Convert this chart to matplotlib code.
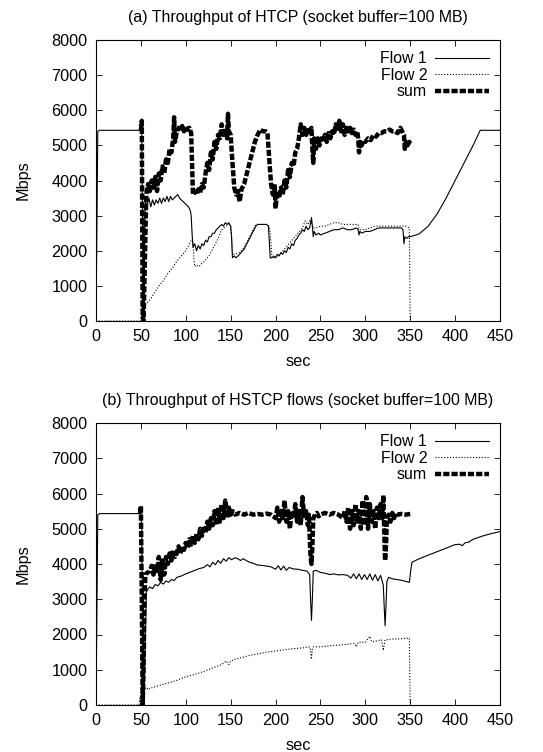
import matplotlib
matplotlib.use("Agg")
import matplotlib.pyplot as plt

plt.rcParams["font.family"] = ["Liberation Sans", "DejaVu Sans"]

# ---- panel (a) HTCP ----
f1a_t = [0, 2, 4, 50, 51, 52, 53, 55, 57, 59,
         61, 63, 65, 67, 69, 71, 73, 75, 77, 79,
         81, 83, 85, 87, 89, 91, 93, 95, 97, 99,
         101, 103, 105, 106, 107, 108, 110, 112, 114, 116,
         118, 120, 122, 124, 126, 128, 130, 132, 134, 136,
         138, 140, 142, 144, 146, 148, 150, 151, 152, 154,
         156, 160, 165, 170, 175, 178, 180, 185, 190, 192,
         193, 194, 196, 198, 200, 202, 204, 206, 208, 210,
         212, 214, 216, 218, 220, 222, 224, 226, 228, 230,
         232, 234, 236, 238, 240, 241, 242, 243, 245, 248,
         250, 255, 260, 265, 270, 275, 280, 285, 290, 292,
         293, 294, 296, 300, 305, 310, 315, 320, 325, 330,
         335, 340, 342, 343, 344, 346, 348, 350, 360, 370,
         380, 390, 400, 410, 420, 428, 435, 450]
f1a_v = [0, 5400, 5430, 5430, 5450, 2000, 0, 3400, 3300, 3500,
         3250, 3450, 3300, 3450, 3350, 3500, 3350, 3500, 3400, 3550,
         3400, 3550, 3450, 3500, 3550, 3600, 3500, 3450, 3400, 3350,
         3300, 3250, 3150, 3000, 2500, 2100, 2200, 2000, 2150, 2050,
         2200, 2150, 2300, 2250, 2400, 2400, 2500, 2500, 2600, 2650,
         2700, 2750, 2700, 2800, 2750, 2800, 2700, 2400, 1800, 1850,
         1800, 1900, 2050, 2300, 2550, 2700, 2750, 2750, 2750, 2700,
         2300, 1800, 1800, 1850, 1800, 1900, 1850, 1950, 1900, 2000,
         1950, 2100, 2050, 2200, 2150, 2300, 2350, 2450, 2500, 2600,
         2550, 2700, 2600, 2650, 2950, 2700, 2400, 2550, 2450, 2500,
         2450, 2500, 2550, 2600, 2600, 2650, 2600, 2600, 2650, 2600,
         2450, 2550, 2500, 2550, 2550, 2600, 2650, 2650, 2650, 2650,
         2650, 2650, 2600, 2200, 2400, 2350, 2400, 2400, 2480, 2700,
         3050, 3500, 4000, 4500, 5000, 5430, 5430, 5430]

f2a_t = [0, 52, 54, 56, 60, 65, 70, 75, 80, 85,
         90, 95, 100, 103, 106, 108, 109, 110, 112, 115,
         118, 121, 124, 127, 130, 133, 136, 139, 142, 145,
         148, 150, 151, 152, 155, 160, 165, 170, 175, 178,
         180, 185, 190, 193, 195, 196, 200, 205, 210, 215,
         220, 225, 230, 233, 236, 238, 240, 242, 245, 250,
         255, 260, 265, 270, 275, 280, 285, 290, 292, 293,
         295, 300, 305, 310, 315, 320, 330, 340, 345, 349,
         350]
f2a_v = [0, 0, 450, 500, 600, 800, 1000, 1150, 1350, 1500,
         1700, 1850, 2000, 2150, 2300, 2250, 1800, 1550, 1600, 1550,
         1650, 1700, 1800, 1900, 2050, 2200, 2350, 2550, 2650, 2700,
         2750, 2700, 2400, 1900, 1900, 1950, 2100, 2350, 2600, 2750,
         2750, 2750, 2750, 2700, 2200, 1800, 1800, 1900, 2050, 2200,
         2350, 2500, 2650, 2850, 2750, 2850, 2800, 2650, 2650, 2700,
         2700, 2750, 2800, 2800, 2750, 2750, 2750, 2750, 2750, 2600,
         2600, 2600, 2650, 2700, 2700, 2700, 2700, 2700, 2700, 2650,
         0]

sa_t = [50, 51, 52, 53, 55, 56, 58, 60, 62, 64,
        66, 68, 70, 72, 74, 76, 78, 80, 82, 84,
        86, 87, 88, 90, 92, 94, 96, 98, 100, 102,
        104, 106, 107, 108, 110, 112, 114, 116, 118, 120,
        122, 124, 126, 128, 130, 132, 134, 136, 138, 140,
        142, 144, 146, 147, 148, 150, 152, 154, 156, 158,
        160, 162, 165, 168, 171, 174, 177, 180, 183, 186,
        189, 191, 193, 195, 197, 199, 200, 202, 204, 206,
        208, 210, 212, 214, 216, 218, 220, 222, 224, 226,
        228, 230, 232, 234, 236, 238, 240, 241, 242, 243,
        245, 247, 249, 251, 253, 255, 257, 259, 261, 263,
        265, 267, 269, 271, 273, 275, 277, 279, 281, 283,
        285, 287, 289, 291, 292, 293, 294, 296, 298, 300,
        303, 306, 309, 312, 315, 318, 321, 324, 327, 330,
        333, 336, 339, 341, 343, 344, 345, 347, 349, 350]
sa_v = [5430, 5700, 100, 0, 2500, 3600, 3900, 3700, 4000, 3800,
        4100, 3700, 4200, 4000, 4400, 4200, 4600, 4500, 4900, 4800,
        5200, 5800, 5100, 5400, 5500, 5400, 5550, 5400, 5550, 5450,
        5500, 5350, 4500, 3600, 3700, 3600, 3750, 3650, 3900, 3800,
        4200, 4500, 4300, 4800, 4600, 5100, 4900, 5300, 5200, 5600,
        5300, 5400, 5200, 5900, 5400, 5300, 4500, 3800, 3600, 3700,
        3400, 3750, 3900, 4200, 4500, 4800, 5100, 5300, 5450, 5400,
        5400, 5350, 4600, 3900, 3600, 3900, 3200, 3700, 3500, 3800,
        3600, 4000, 3800, 4300, 4100, 4500, 4400, 4800, 4900, 5200,
        5600, 5300, 5500, 5300, 5500, 5300, 5500, 4900, 4500, 5200,
        4900, 5200, 5000, 5200, 5100, 5300, 5100, 5350, 5200, 5400,
        5300, 5600, 5400, 5700, 5400, 5600, 5300, 5500, 5400, 5500,
        5350, 5450, 5300, 5400, 5200, 4800, 5100, 5000, 5150, 5100,
        5200, 5150, 5300, 5250, 5350, 5350, 5400, 5400, 5450, 5400,
        5400, 5350, 5500, 5400, 5300, 4900, 5100, 5000, 5100, 5050]

# ---- panel (b) HSTCP ----
f1b_t = [0, 2, 4, 50, 51, 52, 53, 54, 56, 58,
         60, 63, 66, 69, 72, 75, 78, 81, 84, 87,
         90, 95, 100, 105, 110, 115, 120, 124, 127, 130,
         133, 136, 139, 142, 145, 148, 151, 155, 158, 161,
         164, 170, 175, 180, 185, 190, 195, 200, 203, 206,
         209, 212, 215, 220, 225, 230, 235, 238, 239, 240,
         241, 242, 245, 250, 255, 260, 265, 270, 275, 280,
         284, 287, 290, 293, 296, 299, 302, 305, 308, 311,
         314, 317, 320, 321, 322, 323, 324, 326, 330, 340,
         349, 351, 352, 360, 370, 380, 390, 400, 405, 408,
         411, 415, 420, 430, 440, 450]
f1b_v = [0, 5400, 5430, 5430, 5000, 1000, 0, 800, 3200, 3300,
         3350, 3300, 3420, 3380, 3480, 3430, 3520, 3480, 3560, 3530,
         3620, 3660, 3720, 3770, 3820, 3870, 3900, 3980, 3920, 4050,
         3980, 4100, 4020, 4150, 4080, 4180, 4120, 4180, 4150, 4100,
         4150, 4060, 4020, 3970, 3960, 3940, 3920, 3850, 3950, 3830,
         3940, 3820, 3900, 3860, 3850, 3820, 3800, 3700, 3000, 2400,
         3000, 3800, 3820, 3760, 3740, 3700, 3720, 3690, 3700, 3680,
         3600, 3720, 3580, 3720, 3560, 3700, 3560, 3720, 3540, 3700,
         3520, 3680, 3400, 2800, 2250, 2800, 3500, 3620, 3580, 3540,
         3480, 3900, 4050, 4150, 4250, 4350, 4450, 4550, 4560, 4520,
         4600, 4620, 4700, 4790, 4860, 4920]

f2b_t = [0, 48, 49, 50, 51, 52, 54, 56, 58, 60,
         70, 80, 90, 100, 110, 120, 130, 140, 145, 148,
         150, 155, 160, 170, 180, 190, 200, 210, 220, 230,
         238, 239, 240, 241, 242, 250, 260, 270, 280, 288,
         290, 292, 300, 305, 307, 310, 318, 320, 321, 322,
         330, 340, 349, 350]
f2b_v = [0, 0, 200, 0, 0, 100, 450, 500, 430, 470,
         550, 620, 700, 800, 870, 950, 1050, 1150, 1250, 1150,
         1250, 1300, 1330, 1400, 1450, 1500, 1530, 1570, 1600, 1620,
         1650, 1550, 1300, 1600, 1650, 1650, 1680, 1700, 1720, 1750,
         1650, 1780, 1780, 1950, 1800, 1800, 1850, 1550, 1700, 1850,
         1870, 1880, 1900, 0]

sb_t = [49, 50, 51, 52, 53, 54, 55, 57, 60, 62,
        64, 66, 68, 70, 72, 74, 76, 78, 80, 82,
        84, 86, 88, 90, 92, 94, 96, 98, 100, 102,
        104, 106, 108, 110, 112, 114, 116, 118, 120, 122,
        124, 126, 128, 130, 132, 134, 136, 138, 140, 142,
        144, 146, 148, 150, 152, 155, 160, 165, 170, 175,
        180, 185, 190, 195, 200, 202, 204, 206, 208, 210,
        212, 214, 216, 218, 220, 222, 224, 226, 228, 230,
        232, 234, 236, 237, 238, 239, 240, 241, 242, 244,
        246, 248, 250, 255, 260, 265, 270, 275, 277, 279,
        281, 283, 285, 287, 289, 291, 293, 295, 297, 299,
        301, 303, 305, 307, 309, 311, 313, 315, 317, 319,
        320, 321, 322, 323, 324, 326, 328, 330, 332, 334,
        336, 340, 345, 350]
sb_v = [5430, 5650, 3000, 0, 1000, 3000, 3700, 3750, 3800, 3950,
        3700, 4000, 3800, 4200, 3550, 4100, 3700, 4200, 4000, 4300,
        4100, 4400, 4200, 4300, 4500, 4300, 4500, 4400, 4600, 4450,
        4700, 4550, 4800, 4600, 4850, 4700, 5000, 4800, 5000, 4900,
        5200, 5000, 5300, 5100, 5500, 5100, 5600, 5200, 5700, 5300,
        5800, 5300, 5600, 5400, 5500, 5400, 5450, 5400, 5450, 5400,
        5420, 5400, 5430, 5400, 5300, 5600, 5200, 5500, 5300, 5800,
        5200, 5500, 5000, 5500, 5300, 5700, 5200, 5500, 5100, 5900,
        5300, 5500, 5100, 5400, 4800, 4200, 4000, 4500, 5300, 5400,
        5450, 5350, 5400, 5450, 5400, 5450, 5400, 5300, 5500, 5200,
        5600, 5000, 5500, 5100, 5700, 5200, 5500, 5000, 5800, 5100,
        5900, 5000, 5700, 5200, 5500, 5000, 5600, 5300, 5700, 5300,
        5950, 5000, 4100, 4500, 5300, 5400, 5200, 5450, 5300, 5450,
        5400, 5420, 5400, 5420]

xticks = [0, 50, 100, 150, 200, 250, 300, 350, 400, 450]
yticks = [0, 1000, 2000, 3000, 4000, 5000, 6000, 7000, 8000]
labels = ["Flow 1", "Flow 2", "sum"]


def drawPanel(ax, title, f1t, f1v, f2t, f2v, st, sv):
    ax.plot(f1t, f1v, color="black", lw=0.8, label=labels[0])
    ax.plot(f2t, f2v, color="black", lw=0.8, linestyle=(0, (1, 1.6)), label=labels[1])
    ax.plot(st, sv, color="black", lw=3.2, linestyle=(0, (1.4, 0.45)), label=labels[2])
    ax.set_xlim(0, 450)
    ax.set_ylim(0, 8000)
    ax.set_xticks(xticks)
    ax.set_yticks(yticks)
    ax.tick_params(direction="in", top=True, right=True, length=4, width=0.6, labelsize=11.7, pad=6)
    for s in ax.spines.values():
        s.set_linewidth(0.8)
    ax.set_title(title, fontsize=11.4, pad=13)
    ax.set_xlabel("sec", fontsize=11.7, labelpad=7)
    ax.set_ylabel("Mbps", fontsize=11.7, labelpad=15)
    leg = ax.legend(loc="upper right", frameon=False, markerfirst=False, fontsize=11.4,
                    handlelength=3.4, labelspacing=0.1, borderaxespad=0.3, handletextpad=0.5)
    # right-align the legend texts like gnuplot does
    for col in leg._legend_handle_box.get_children():
        col.align = "right"


fig = plt.figure(figsize=(5.43, 7.52), dpi=100)
axA = fig.add_axes([0.1768, 0.5731, 0.744, 0.3737])
axB = fig.add_axes([0.1768, 0.0625, 0.744, 0.375])

drawPanel(axA, "(a) Throughput of HTCP (socket buffer=100 MB)", f1a_t, f1a_v, f2a_t, f2a_v, sa_t, sa_v)
drawPanel(axB, "(b) Throughput of HSTCP flows (socket buffer=100 MB)", f1b_t, f1b_v, f2b_t, f2b_v, sb_t, sb_v)

fig.savefig("out.png", dpi=100)
